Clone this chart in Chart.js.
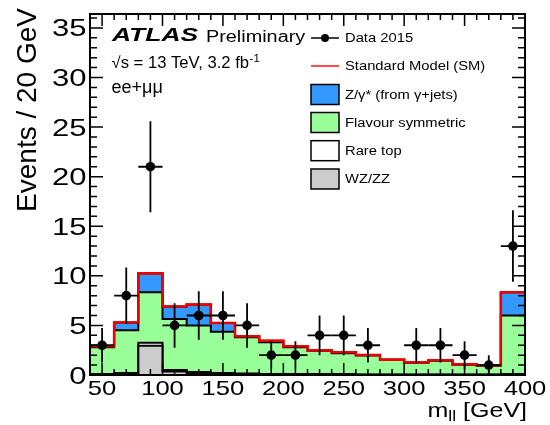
<!DOCTYPE html>
<html>
<head>
<meta charset="utf-8">
<script src="https://cdn.jsdelivr.net/npm/chart.js@4.4.0/dist/chart.umd.min.js"></script>
<style>
body { margin: 0; background: #fff; }
#wrap { width: 550px; height: 425px; }
</style>
</head>
<body>
<div id="wrap"><canvas id="chart" width="550" height="425"></canvas></div>
<script>
// 20 GeV bins, low edges; last bin closes at binEnd
let binLow = [40, 60, 80, 100, 120, 140, 160, 180, 200, 220, 240, 260, 280, 300, 320, 340, 360, 380]
let binEnd = 400

// stacked backgrounds, bottom to top
let wzzz    = [0.05, 0.15, 2.95, 0.35, 0.15, 0.1, 0.08, 0.05, 0.05, 0.05, 0.04, 0.03, 0.03, 0.02, 0.02, 0.02, 0.02, 0.05]
let rareTop = [0.05, 0.05, 0.3, 0.15, 0.15, 0.1, 0.07, 0.05, 0.05, 0.05, 0.05, 0.03, 0.02, 0.02, 0.02, 0.02, 0.02, 0.05]
let flavSym = [2.7, 4.3, 5.1, 5.15, 4.7, 4.15, 3.65, 3.2, 2.7, 2.35, 2.1, 1.9, 1.45, 1.2, 1.4, 1.0, 0.9, 5.9]
let zGamma  = [0.1, 0.8, 1.9, 1.25, 2.1, 0.9, 0.1, 0.15, 0.1, 0.05, 0.1, 0.05, 0.05, 0.05, 0.05, 0.05, 0.05, 2.35]

// data 2015
let dataX   = [50, 70, 90, 110, 130, 150, 170, 190, 210, 230, 250, 270, 310, 330, 350, 370, 390]
let dataY   = [3, 8, 21, 5, 6, 6, 5, 2, 2, 4, 4, 3, 3, 3, 2, 1, 13]
let dataErr = [1.73, 2.83, 4.58, 2.24, 2.45, 2.45, 2.24, 1.41, 1.41, 2, 2, 1.73, 1.73, 1.73, 1.41, 1, 3.61]
let halfBin = 10

let xTicks = [50, 100, 150, 200, 250, 300, 350, 400]
let yTicks = [0, 5, 10, 15, 20, 25, 30, 35]

const FONT = '"Liberation Sans", Arial, Helvetica, sans-serif'
const BLUE = "#3399ff"
const GREEN = "#99ff99"
const GREY = "#cccccc"

function add(a, b){
    return a.map((v, i) => v + b[i])
}
function steps(vals){
    let pts = binLow.map((x, i) => ({x: x, y: vals[i]}))
    pts.push({x: binEnd, y: vals[vals.length - 1]})
    return pts
}

let cumWz = wzzz
let cumRare = add(cumWz, rareTop)
let cumFlav = add(cumRare, flavSym)
let cumTotal = add(cumFlav, zGamma)

function histo(vals, fillColor, order){
    return {
        data: steps(vals),
        stepped: true,
        borderColor: "#000",
        borderWidth: 2,
        backgroundColor: fillColor,
        fill: "origin",
        pointRadius: 0,
        order: order
    }
}

function drawText(ctx, str, x, y, font, sx, align){
    ctx.save()
    ctx.translate(x, y)
    ctx.scale(sx, 1)
    ctx.font = font
    ctx.textAlign = align || "left"
    ctx.textBaseline = "alphabetic"
    ctx.fillStyle = "#000"
    ctx.fillText(str, 0, 0)
    let w = ctx.measureText(str).width * sx
    ctx.restore()
    return w
}

const decor = {
    id: "decor",
    afterDatasetsDraw(chart){
        let ctx = chart.ctx
        let xs = chart.scales.x, ys = chart.scales.y
        let a = chart.chartArea
        ctx.save()
        ctx.beginPath()
        ctx.rect(a.left, a.top, a.right - a.left, a.bottom - a.top)
        ctx.clip()
        ctx.strokeStyle = "#000"
        ctx.lineWidth = 1.8
        for(let i = 0; i < dataX.length; i++){
            let px = xs.getPixelForValue(dataX[i])
            let py = ys.getPixelForValue(dataY[i])
            ctx.beginPath()
            ctx.moveTo(xs.getPixelForValue(dataX[i] - halfBin), py)
            ctx.lineTo(xs.getPixelForValue(dataX[i] + halfBin), py)
            ctx.moveTo(px, ys.getPixelForValue(dataY[i] + dataErr[i]))
            ctx.lineTo(px, ys.getPixelForValue(dataY[i] - dataErr[i]))
            ctx.stroke()
        }
        ctx.restore()
    },
    afterDraw(chart){
        let ctx = chart.ctx
        let xs = chart.scales.x, ys = chart.scales.y
        let a = chart.chartArea
        ctx.save()
        ctx.strokeStyle = "#000"
        ctx.lineWidth = 2
        ctx.strokeRect(a.left, a.top, a.right - a.left, a.bottom - a.top)

        // ticks pointing inward on all four sides
        ctx.lineWidth = 1.5
        ctx.beginPath()
        for(let v = 40; v <= 400; v += 10){
            let px = xs.getPixelForValue(v)
            let len = v % 50 == 0 ? 12 : 6
            ctx.moveTo(px, a.bottom); ctx.lineTo(px, a.bottom - len)
            ctx.moveTo(px, a.top); ctx.lineTo(px, a.top + len)
        }
        for(let v = 0; v <= 36; v += 1){
            let py = ys.getPixelForValue(v)
            let len = v % 5 == 0 ? 13 : 7
            ctx.moveTo(a.left, py); ctx.lineTo(a.left + len, py)
            ctx.moveTo(a.right, py); ctx.lineTo(a.right - len, py)
        }
        ctx.stroke()

        // tick labels
        for(let t of xTicks){
            drawText(ctx, String(t), xs.getPixelForValue(t), 395, "21px " + FONT, 1.22, "center")
        }
        for(let t of yTicks){
            drawText(ctx, String(t), 86.5, ys.getPixelForValue(t) + 8.5, "23px " + FONT, 1.35, "right")
        }

        // y title
        ctx.save()
        ctx.translate(36, 8)
        ctx.rotate(-Math.PI / 2)
        ctx.font = "28px " + FONT
        ctx.textAlign = "right"
        ctx.fillStyle = "#000"
        ctx.fillText("Events / 20 GeV", 0, 0)
        ctx.restore()

        // x title: m_ll [GeV], right aligned
        ctx.save()
        ctx.font = "20px " + FONT
        let wm = ctx.measureText("m").width * 1.25
        let wr = ctx.measureText(" [GeV]").width * 1.25
        ctx.font = "14px " + FONT
        let wl = ctx.measureText("ll").width * 1.25
        ctx.restore()
        let x0 = 527 - wm - wl - wr
        drawText(ctx, "m", x0, 416.5, "20px " + FONT, 1.25)
        drawText(ctx, "ll", x0 + wm, 421, "14px " + FONT, 1.25)
        drawText(ctx, " [GeV]", x0 + wm + wl, 416.5, "20px " + FONT, 1.25)

        // labels
        let wa = drawText(ctx, "ATLAS", 112, 41, "italic bold 19px " + FONT, 1.39)
        drawText(ctx, "Preliminary", 206, 41.5, "16px " + FONT, 1.24)
        let ws = drawText(ctx, "\u221as = 13 TeV, 3.2 fb", 111.5, 68.3, "16px " + FONT, 1.04)
        drawText(ctx, "-1", 111.5 + ws + 0.5, 62, "11px " + FONT, 1.04)
        drawText(ctx, "ee+\u03bc\u03bc", 111.5, 93.3, "18px " + FONT, 1.0)

        // legend
        let rows = [38, 66, 94.5, 122.5, 150.7, 179]
        let names = ["Data 2015", "Standard Model (SM)", "Z/\u03b3* (from \u03b3+jets)", "Flavour symmetric", "Rare top", "WZ/ZZ"]
        ctx.lineWidth = 1.5
        ctx.strokeStyle = "#000"
        ctx.beginPath()
        ctx.moveTo(311, rows[0]); ctx.lineTo(339, rows[0])
        ctx.stroke()
        ctx.beginPath()
        ctx.arc(325, rows[0], 4, 0, Math.PI * 2)
        ctx.fillStyle = "#000"
        ctx.fill()
        ctx.strokeStyle = "#ff4d4d"
        ctx.lineWidth = 2
        ctx.beginPath()
        ctx.moveTo(311, rows[1]); ctx.lineTo(339, rows[1])
        ctx.stroke()
        let boxCols = [BLUE, GREEN, "#ffffff", GREY]
        for(let i = 0; i < 4; i++){
            let cy = rows[i + 2]
            ctx.fillStyle = boxCols[i]
            ctx.fillRect(311, cy - 10, 28, 20)
            ctx.strokeStyle = "#000"
            ctx.lineWidth = 1.5
            ctx.strokeRect(311, cy - 10, 28, 20)
        }
        for(let i = 0; i < names.length; i++){
            drawText(ctx, names[i], 345, rows[i] + 4.3, "12px " + FONT, 1.23)
        }
        ctx.restore()
    }
}

const ctx = document.getElementById("chart").getContext("2d")
const chart = new Chart(ctx, {
    type: "line",
    data: {
        datasets: [
            {
                data: dataX.map((x, i) => ({x: x, y: dataY[i]})),
                showLine: false,
                pointRadius: 4.8,
                pointBackgroundColor: "#000",
                pointBorderColor: "#000",
                pointBorderWidth: 0,
                order: 0
            },
            {
                data: steps(cumTotal),
                stepped: true,
                borderColor: "#ee0000",
                borderWidth: 2.6,
                fill: false,
                pointRadius: 0,
                order: 1
            },
            histo(cumWz, GREY, 2),
            histo(cumRare, "#ffffff", 3),
            histo(cumFlav, GREEN, 4),
            histo(cumTotal, BLUE, 5)
        ]
    },
    options: {
        responsive: false,
        animation: false,
        layout: {padding: {left: 90, right: 25, top: 14, bottom: 50}},
        scales: {
            x: {type: "linear", min: 40, max: 400, display: false},
            y: {min: 0, max: 36.4, display: false}
        },
        plugins: {
            legend: {display: false},
            tooltip: {enabled: false}
        }
    },
    plugins: [decor]
})
</script>
</body>
</html>
